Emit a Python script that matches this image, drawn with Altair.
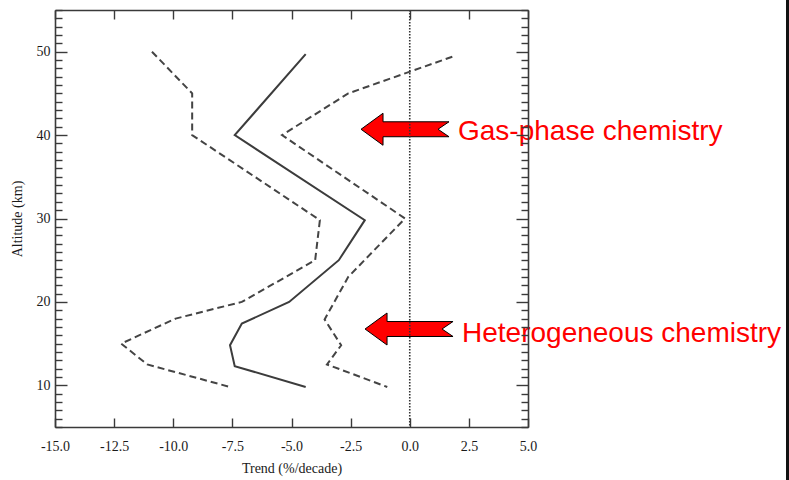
import altair as alt
import pandas as pd

# ---------------- data ----------------
mean_alt = [49.7, 40.0, 29.8, 25.0, 20.0, 17.4, 14.8, 12.3, 9.8]
mean_trend = [-4.4, -7.4, -1.9, -3.0, -5.1, -7.1, -7.6, -7.4, -4.4]

low_alt = [50.0, 45.0, 40.0, 29.8, 25.0, 20.0, 18.0, 15.0, 12.5, 9.8]
low_trend = [-10.9, -9.2, -9.2, -3.8, -4.0, -7.1, -9.9, -12.2, -11.1, -7.6]

up_alt = [49.4, 45.0, 40.0, 30.0, 23.0, 17.9, 14.8, 12.5, 9.8]
up_trend = [1.8, -2.6, -5.4, -0.2, -2.6, -3.6, -2.9, -3.5, -0.95]

zero_line = [0.0]

x_ticks = [-15.0, -12.5, -10.0, -7.5, -5.0, -2.5, 0.0, 2.5, 5.0]
y_ticks = list(range(5, 56))

note_labels = ["Gas-phase chemistry", "Heterogeneous chemistry"]
note_arrow_x = [-0.2, -0.03]
note_arrow_y = [40.7, 16.75]
note_text_x = [2.04, 2.21]
note_text_y = [39.4, 15.2]

# ---------------- tables ----------------
mean_df = pd.DataFrame({"trend": mean_trend, "altitude": mean_alt,
                        "idx": range(len(mean_alt))})
bound_df = pd.concat([
    pd.DataFrame({"series": "lower", "trend": low_trend, "altitude": low_alt,
                  "idx": range(len(low_alt))}),
    pd.DataFrame({"series": "upper", "trend": up_trend, "altitude": up_alt,
                  "idx": range(len(up_alt))}),
])
zero_df = pd.DataFrame({"v": zero_line})
notes_df = pd.DataFrame({"label": note_labels, "ax": note_arrow_x, "ay": note_arrow_y,
                         "tx": note_text_x, "ty": note_text_y})

X_SCALE = alt.Scale(domain=[-15, 5], nice=False, zero=False)
Y_SCALE = alt.Scale(domain=[5, 55], nice=False, zero=False)

INK = "#3a3a3a"
common = dict(grid=False, domainColor=INK, domainWidth=1.6, tickColor=INK,
              tickWidth=1.4, labelFont="Liberation Serif", labelFontSize=14,
              labelColor="#1a1a1a", titleFont="Liberation Serif", titleFontSize=14,
              titleFontWeight="normal", titleColor="#1a1a1a",
              labelFlush=False, labelOverlap=False)

x_label_expr = "(datum.value < 0 ? '-' : '') + format(abs(datum.value), '.1f')"
y_tick_expr = "datum.value % 10 === 0 ? -12 : -7"

x_bottom = alt.Axis(orient="bottom", values=x_ticks, labelExpr=x_label_expr,
                    tickSize=alt.ExprRef(expr="-9"), labelPadding=21,
                    title="Trend (%/decade)", titlePadding=8, zindex=1, **common)
y_left = alt.Axis(orient="left", values=y_ticks,
                  labelExpr="datum.value % 10 === 0 ? datum.label : ''",
                  tickSize=alt.ExprRef(expr=y_tick_expr), labelPadding=17,
                  title="Altitude (km)", titlePadding=12, zindex=1, **common)
x_top = alt.Axis(orient="top", values=x_ticks, labels=False,
                 tickSize=alt.ExprRef(expr="-9"), title=None, zindex=1, **common)
y_right = alt.Axis(orient="right", values=y_ticks, labels=False,
                   tickSize=alt.ExprRef(expr=y_tick_expr), title=None, zindex=1, **common)

solid = alt.Chart(mean_df).mark_line(color="#3c3c3c", strokeWidth=2.0).encode(
    x=alt.X("trend:Q", scale=X_SCALE, axis=x_bottom),
    y=alt.Y("altitude:Q", scale=Y_SCALE, axis=y_left),
    order="idx:O",
)

dashed = alt.Chart(bound_df).mark_line(color="#444444", strokeWidth=2.0,
                                       strokeDash=[7, 4]).encode(
    x=alt.X("trend:Q", scale=X_SCALE, axis=x_top),
    y=alt.Y("altitude:Q", scale=Y_SCALE, axis=y_right),
    detail="series:N",
    order="idx:O",
)

ARROW = ("M -1 0 L -0.5 -0.364 L -0.5 -0.17 L 1 -0.17 L 0.75 0 "
         "L 1 0.17 L -0.5 0.17 L -0.5 0.364 Z")
arrows = alt.Chart(notes_df).mark_point(shape=ARROW, size=7744, filled=True,
                                        color="#ff0000", stroke="#000000",
                                        strokeWidth=1, opacity=1).encode(
    x=alt.X("ax:Q", scale=X_SCALE, axis=None),
    y=alt.Y("ay:Q", scale=Y_SCALE, axis=None),
)

zero = alt.Chart(zero_df).mark_rule(color="#333333", strokeWidth=1.6,
                                    strokeDash=[1.5, 1.5]).encode(
    x=alt.X("v:Q", scale=X_SCALE, axis=None),
)

texts = alt.Chart(notes_df).mark_text(align="left", baseline="alphabetic",
                                      font="Liberation Sans", fontSize=28,
                                      color="#ff0000").encode(
    x=alt.X("tx:Q", scale=X_SCALE, axis=None),
    y=alt.Y("ty:Q", scale=Y_SCALE, axis=None),
    text="label:N",
)

edge = alt.Chart(zero_df).mark_rule(color="#111111", strokeWidth=3).encode(
    x=alt.value(732.5), y=alt.value(-10), y2=alt.value(470)
)

chart = alt.layer(solid, dashed, arrows, zero, texts, edge).resolve_axis(
    x="independent", y="independent"
).properties(
    width=473, height=417,
    autosize=alt.AutoSizeParams(type="none"),
    padding={"left": 55, "top": 10, "right": 261, "bottom": 53},
    background="white",
).configure_view(strokeWidth=0)

chart.save("out.html", embed_options={"renderer": "svg", "actions": False})
